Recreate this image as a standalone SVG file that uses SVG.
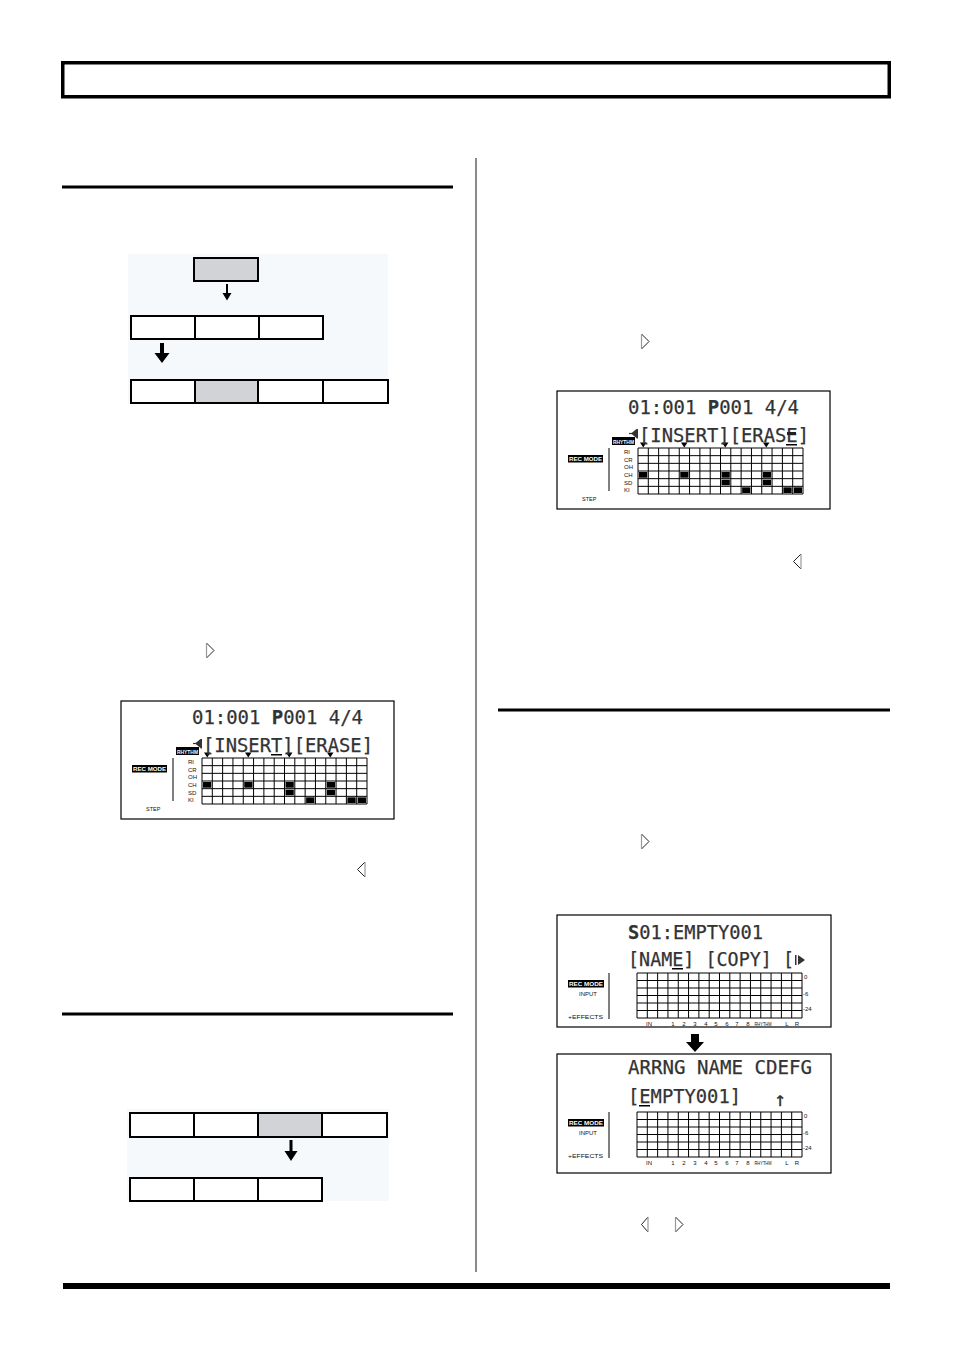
<svg xmlns="http://www.w3.org/2000/svg" xmlns:xlink="http://www.w3.org/1999/xlink" width="954" height="1351" viewBox="0 0 954 1351">
<style>
.rule{fill:#000}
.box{fill:#fff;stroke:#000;stroke-width:2}
.boxg{fill:#d1d3d6;stroke:#000;stroke-width:2}
.bg{fill:#f6f9fb}
.lcd{fill:#fff;stroke:#000;stroke-width:1.2}
.grid{fill:none;stroke:#000;stroke-width:1}
.dot{font-family:"DejaVu Sans Mono","Liberation Mono",monospace;font-size:20px;fill:#333;stroke:#333;stroke-width:0.25}
.sm{font-family:"Liberation Sans","DejaVu Sans",sans-serif;font-size:6px;fill:#111}
.inv{font-family:"Liberation Sans","DejaVu Sans",sans-serif;font-size:6px;font-weight:bold;fill:#fff}
.fill{fill:#000}
.tri{fill:#fff;stroke:#222;stroke-width:1}
.conn{fill:#000}
</style>
<defs>
<g id="steplcd">
  <rect class="lcd" x="0" y="0" width="273" height="118"/>
  <rect class="fill" x="55" y="46" width="23" height="8"/>
  <text class="inv" x="56" y="52.5" textLength="21" lengthAdjust="spacingAndGlyphs">RHYTHM</text>
  <path class="fill" d="M83,51.5 h6.5 l-3.25,5 z M124,51.5 h6.5 l-3.25,5 z M165,51.5 h6.5 l-3.25,5 z M206,51.5 h6.5 l-3.25,5 z"/>
  <rect class="fill" x="11" y="64" width="35" height="7.5"/>
  <text class="inv" x="12" y="70" textLength="33" lengthAdjust="spacingAndGlyphs">REC MODE</text>
  <line x1="52" y1="57" x2="52" y2="100" stroke="#000" stroke-width="1"/>
  <g class="sm">
    <text x="67" y="63">RI</text>
    <text x="67" y="70.7">CR</text>
    <text x="67" y="78.4">OH</text>
    <text x="67" y="86">CH</text>
    <text x="67" y="93.7">SD</text>
    <text x="67" y="101.4">KI</text>
    <text x="25" y="110" font-size="5.5">STEP</text>
  </g>
  <path class="grid" d="M81,57H246V103H81Z M81,64.67H246 M81,72.33H246 M81,80H246 M81,87.67H246 M81,95.33H246 M91.31,57V103 M101.63,57V103 M111.94,57V103 M122.25,57V103 M132.56,57V103 M142.88,57V103 M153.19,57V103 M163.5,57V103 M173.81,57V103 M184.13,57V103 M194.44,57V103 M204.75,57V103 M215.06,57V103 M225.38,57V103 M235.69,57V103"/>
  <g class="fill">
    <rect x="82" y="81" width="8.3" height="5.7"/>
    <rect x="123.25" y="81" width="8.3" height="5.7"/>
    <rect x="164.5" y="81" width="8.3" height="5.7"/>
    <rect x="205.75" y="81" width="8.3" height="5.7"/>
    <rect x="164.5" y="88.67" width="8.3" height="5.7"/>
    <rect x="205.75" y="88.67" width="8.3" height="5.7"/>
    <rect x="185.13" y="96.33" width="8.3" height="5.7"/>
    <rect x="226.38" y="96.33" width="8.3" height="5.7"/>
    <rect x="236.69" y="96.33" width="8.3" height="5.7"/>
  </g>
  <text class="dot" x="71" y="23" textLength="171" lengthAdjust="spacingAndGlyphs">01:001 <tspan font-weight="bold">P</tspan>001 4/4</text>
  <path d="M72,42.5 h3" stroke="#333" stroke-width="1.2"/>
  <path d="M74,42.5 l5.5,-4.5 v9 z M79.5,38 h1.5 v9.5 h-1.5 z" fill="#333"/>
  <text class="dot" x="82" y="51" textLength="170" lengthAdjust="spacingAndGlyphs">[INSERT][ERASE]</text>
</g>
<g id="mixlcd">
  <rect class="fill" x="11" y="65" width="36" height="7.5"/>
  <text class="inv" x="12" y="71" textLength="34" lengthAdjust="spacingAndGlyphs">REC MODE</text>
  <text class="sm" x="31" y="80.5" text-anchor="middle">INPUT</text>
  <text class="sm" x="11" y="104" textLength="35" lengthAdjust="spacingAndGlyphs">+EFFECTS</text>
  <line x1="52" y1="58" x2="52" y2="104" stroke="#000" stroke-width="1"/>
  <path class="grid" d="M80,58H245V103H80Z M80,65.5H245 M80,73H245 M80,80.5H245 M80,88H245 M80,95.5H245 M90.31,58V103 M100.63,58V103 M110.94,58V103 M121.25,58V103 M131.56,58V103 M141.88,58V103 M152.19,58V103 M162.5,58V103 M172.81,58V103 M183.13,58V103 M193.44,58V103 M203.75,58V103 M214.06,58V103 M224.38,58V103 M234.69,58V103"/>
  <g class="sm" font-size="5.5">
    <text x="247" y="64">0</text>
    <text x="246" y="81">-6</text>
    <text x="246" y="96">-24</text>
    <text x="92" y="111" text-anchor="middle">IN</text>
    <text x="116" y="111" text-anchor="middle">1</text>
    <text x="127" y="111" text-anchor="middle">2</text>
    <text x="138" y="111" text-anchor="middle">3</text>
    <text x="149" y="111" text-anchor="middle">4</text>
    <text x="159" y="111" text-anchor="middle">5</text>
    <text x="170" y="111" text-anchor="middle">6</text>
    <text x="180" y="111" text-anchor="middle">7</text>
    <text x="191" y="111" text-anchor="middle">8</text>
    <text x="206" y="111" text-anchor="middle" textLength="17" lengthAdjust="spacingAndGlyphs">RHYTHM</text>
    <text x="230" y="111" text-anchor="middle">L</text>
    <text x="240" y="111" text-anchor="middle">R</text>
  </g>
</g>
</defs>

<g id="header">
  <rect x="62.75" y="62.75" width="826.5" height="34" fill="none" stroke="#000" stroke-width="3.5"/>
</g>
<g id="rules">
  <rect class="rule" x="62" y="185.5" width="391" height="3"/>
  <rect class="rule" x="62" y="1012.5" width="391" height="3"/>
  <rect class="rule" x="498" y="708.5" width="392" height="3"/>
  <rect x="475" y="158" width="2" height="1114" fill="#8a8a8a"/>
  <rect class="rule" x="63" y="1283" width="827" height="6"/>
</g>

<g id="flow1">
  <rect class="bg" x="128" y="254" width="260" height="150"/>
  <g id="flow1-top"><rect class="boxg" x="194" y="258" width="64" height="23"/></g>
  <g id="flow1-row2">
    <rect class="box" x="131" y="316" width="64" height="23"/>
    <rect class="box" x="195" y="316" width="64" height="23"/>
    <rect class="box" x="259" y="316" width="64" height="23"/>
  </g>
  <g id="flow1-row3">
    <rect class="box" x="131" y="380" width="64" height="23"/>
    <rect class="boxg" x="195" y="380" width="63" height="23"/>
    <rect class="box" x="258" y="380" width="65" height="23"/>
    <rect class="box" x="323" y="380" width="65" height="23"/>
  </g>
</g>

<g id="flow2">
  <rect class="bg" x="127" y="1109" width="262" height="92"/>
  <g id="flow2-row1">
    <rect class="box" x="130" y="1113" width="64" height="24"/>
    <rect class="box" x="194" y="1113" width="64" height="24"/>
    <rect class="boxg" x="258" y="1113" width="64" height="24"/>
    <rect class="box" x="322" y="1113" width="65" height="24"/>
  </g>
  <g id="flow2-row2">
    <rect class="box" x="130" y="1178" width="64" height="23"/>
    <rect class="box" x="194" y="1178" width="64" height="23"/>
    <rect class="box" x="258" y="1178" width="64" height="23"/>
  </g>
</g>

<g id="lcd-step1">
  <use xlink:href="#steplcd" x="121" y="701"/>
  <rect class="fill" x="271" y="754" width="11" height="1.5"/>
</g>
<g id="lcd-step2">
  <use xlink:href="#steplcd" x="557" y="391"/>
  <rect class="fill" x="786" y="444" width="11" height="1.5"/>
  <rect x="787" y="432" width="9" height="3" fill="#222"/>
</g>

<g id="lcd-mix1">
  <rect class="lcd" x="557" y="915" width="274" height="112"/>
  <use xlink:href="#mixlcd" x="557" y="915"/>
  <text class="dot" x="628" y="939" textLength="135" lengthAdjust="spacingAndGlyphs"><tspan font-weight="bold">S</tspan>01:EMPTY001</text>
  <text class="dot" x="628" y="966" textLength="166" lengthAdjust="spacingAndGlyphs">[NAME] [COPY] [</text>
  <rect x="795" y="955" width="1.5" height="10" fill="#333"/>
  <path d="M798,955 L805,960 L798,965 Z" fill="#333"/>
  <rect class="fill" x="672" y="968" width="11" height="1.5"/>
</g>

<g id="lcd-mix2">
  <rect class="lcd" x="557" y="1054" width="274" height="119"/>
  <use xlink:href="#mixlcd" x="557" y="1054"/>
  <text class="dot" x="628" y="1074" textLength="184" lengthAdjust="spacingAndGlyphs">ARRNG NAME CDEFG</text>
  <text class="dot" x="628" y="1103" textLength="113" lengthAdjust="spacingAndGlyphs">[EMPTY001]</text>
  <text class="dot" x="780" y="1106" text-anchor="middle" font-size="30">↑</text>
  <rect class="fill" x="639" y="1105" width="11" height="1.5"/>
</g>

<g id="connectors">
  <path class="conn" d="M226,284 h2 v9 h3.5 l-4.5,7.5 l-4.5,-7.5 h3.5 z"/>
  <path class="conn" d="M160,343 h4 v10 h5.5 l-7.5,10 l-7.5,-10 h5.5 z"/>
  <path class="conn" d="M289.5,1140 h3 v11 h5 l-6.5,10 l-6.5,-10 h5 z"/>
  <path class="conn" d="M691,1034 h8 v8 h5 l-9,10 l-9,-10 h5 z"/>
</g>

<g id="buttons">
  <g id="btn1"><path class="tri" d="M206.5,643 L214,650.5 L206.5,658"/><line x1="206.5" y1="643" x2="206.5" y2="658" stroke="#999" stroke-width="1.2"/></g>
  <g id="btn2"><path class="tri" d="M641.5,334 L649,341.5 L641.5,349"/><line x1="641.5" y1="334" x2="641.5" y2="349" stroke="#999" stroke-width="1.2"/></g>
  <g id="btn3"><path class="tri" d="M801,554 L793.5,561.5 L801,569"/><line x1="801" y1="554" x2="801" y2="569" stroke="#999" stroke-width="1.2"/></g>
  <g id="btn4"><path class="tri" d="M365,862 L357.5,869.5 L365,877"/><line x1="365" y1="862" x2="365" y2="877" stroke="#999" stroke-width="1.2"/></g>
  <g id="btn5"><path class="tri" d="M641.5,834 L649,841.5 L641.5,849"/><line x1="641.5" y1="834" x2="641.5" y2="849" stroke="#999" stroke-width="1.2"/></g>
  <g id="btn6"><path class="tri" d="M648,1217 L641.5,1224.5 L648,1232"/><line x1="648" y1="1217" x2="648" y2="1232" stroke="#999" stroke-width="1.2"/></g>
  <g id="btn7"><path class="tri" d="M675.5,1217 L683,1224.5 L675.5,1232"/><line x1="675.5" y1="1217" x2="675.5" y2="1232" stroke="#999" stroke-width="1.2"/></g>
</g>
</svg>
